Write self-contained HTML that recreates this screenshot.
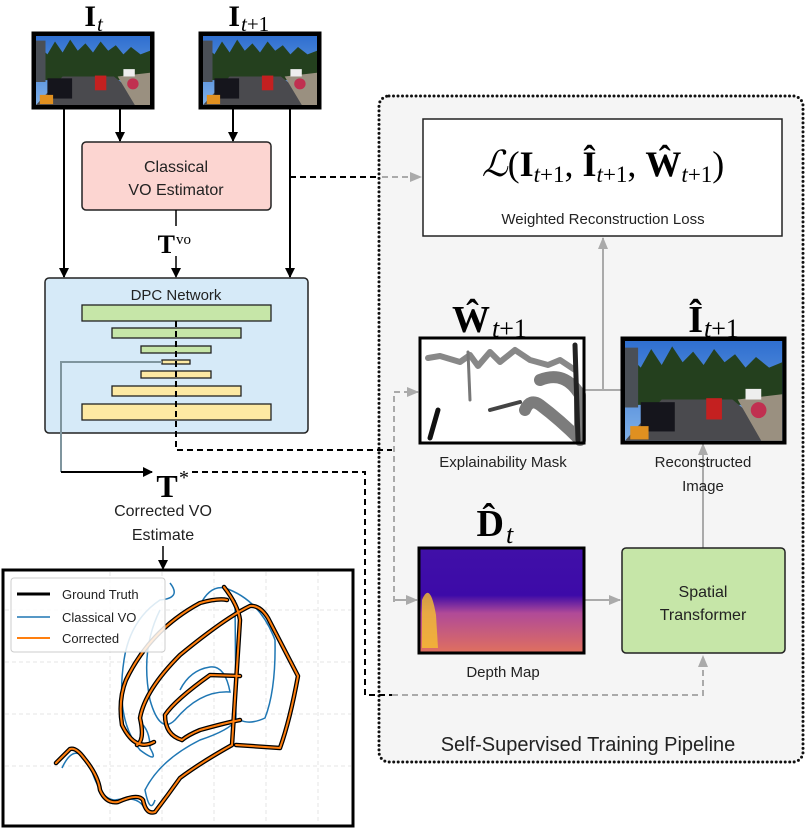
<!DOCTYPE html>
<html><head><meta charset="utf-8"><style>
html,body{margin:0;padding:0;background:#fff;}
svg{display:block;}
.s{font-family:"Liberation Sans",sans-serif;fill:#222;}
.m{font-family:"Liberation Serif",serif;fill:#000;}
</style></head><body>
<svg width="806" height="829" viewBox="0 0 806 829" xmlns="http://www.w3.org/2000/svg">
<defs>
<marker id="ab" markerWidth="10" markerHeight="10" refX="9" refY="5" orient="auto" markerUnits="userSpaceOnUse"><path d="M0,0 L10,5 L0,10 z" fill="#000"/></marker>
<marker id="ag" markerWidth="12" markerHeight="10" refX="11" refY="5" orient="auto" markerUnits="userSpaceOnUse"><path d="M0,0 L12,5 L0,10 z" fill="#aaa"/></marker>
<linearGradient id="sky" x1="0" y1="0" x2="0" y2="1"><stop offset="0" stop-color="#2f6fd0"/><stop offset="1" stop-color="#7fb0e8"/></linearGradient>
<linearGradient id="dep" x1="0" y1="0" x2="0" y2="1"><stop offset="0" stop-color="#4010a8"/><stop offset="0.45" stop-color="#3d0aa8"/><stop offset="0.62" stop-color="#b04a98"/><stop offset="1" stop-color="#e0705e"/></linearGradient>
<g id="street">
<rect x="0" y="0" width="120" height="75" fill="url(#sky)"/>
<path d="M0,22 L6,14 12,20 20,6 28,18 36,4 44,16 52,8 60,18 68,6 76,16 84,10 92,20 100,12 110,20 120,16 L120,48 L0,48z" fill="#24401e"/>
<rect x="0" y="5" width="10" height="45" fill="#4a4f56"/>
<path d="M0,75 L28,44 L82,44 L120,75z" fill="#4a4a4e"/>
<path d="M86,44 L120,40 L120,75 L104,75z" fill="#9a9080"/>
<rect x="12" y="46" width="26" height="22" fill="#15151c"/>
<rect x="62" y="43" width="12" height="16" fill="#c42020"/>
<rect x="92" y="36" width="12" height="8" fill="#eee"/>
<circle cx="102" cy="52" r="6" fill="#c03050"/>
<rect x="4" y="64" width="14" height="10" fill="#e09020"/>
</g>
</defs>

<!-- pipeline box -->
<rect x="379" y="96" width="424" height="666" rx="10" fill="#f5f5f5" stroke="#111" stroke-width="3" stroke-dasharray="0 4.5" stroke-linecap="round"/>

<!-- input images -->
<text x="96" y="26" class="m" font-size="30" font-weight="bold" text-anchor="end">I</text><text x="97" y="31" class="m" font-size="21" font-style="italic">t</text>
<text x="240" y="26" class="m" font-size="30" font-weight="bold" text-anchor="end">I</text><text x="241" y="31" class="m" font-size="21"><tspan font-style="italic">t</tspan>+1</text>
<rect x="33" y="33" width="120" height="75" fill="#000"/>
<use href="#street" transform="translate(36,36) scale(0.95,0.92)"/>
<rect x="33" y="33" width="120" height="75" fill="none" stroke="#000" stroke-width="3"/>
<rect x="200" y="33" width="120" height="75" fill="#000"/>
<use href="#street" transform="translate(203,36) scale(0.95,0.92)"/>
<rect x="200" y="33" width="120" height="75" fill="none" stroke="#000" stroke-width="3"/>

<line x1="120" y1="108" x2="120" y2="141" stroke="#000" stroke-width="2" marker-end="url(#ab)"/>
<line x1="233" y1="108" x2="233" y2="141" stroke="#000" stroke-width="2" marker-end="url(#ab)"/>
<line x1="64" y1="108" x2="64" y2="277" stroke="#000" stroke-width="2" marker-end="url(#ab)"/>
<line x1="290" y1="108" x2="290" y2="277" stroke="#000" stroke-width="2" marker-end="url(#ab)"/>

<rect x="82" y="142" width="189" height="68" rx="4" fill="#fcd5d1" stroke="#222" stroke-width="1.5"/>
<text x="176" y="172" class="s" font-size="16" text-anchor="middle">Classical</text>
<text x="176" y="195" class="s" font-size="16" text-anchor="middle">VO Estimator</text>

<line x1="176" y1="210" x2="176" y2="226" stroke="#000" stroke-width="1.5"/>
<text x="175" y="253" class="m" font-size="26" font-weight="bold" text-anchor="end">T</text><text x="176" y="244" class="m" font-size="15">vo</text>
<line x1="176" y1="256" x2="176" y2="277" stroke="#000" stroke-width="1.5" marker-end="url(#ab)"/>

<!-- DPC -->
<rect x="45" y="278" width="263" height="155" rx="4" fill="#d6eaf8" stroke="#222" stroke-width="1.5"/>
<text x="176" y="300" class="s" font-size="15" text-anchor="middle">DPC Network</text>
<g stroke="#222" stroke-width="1.3">
<rect x="82" y="305" width="189" height="16" fill="#c6e6a8"/>
<rect x="112" y="328" width="129" height="10" fill="#c6e6a8"/>
<rect x="141" y="346" width="70" height="7" fill="#c6e6a8"/>
<rect x="162" y="360" width="28" height="4" fill="#fde9a3"/>
<rect x="141" y="371" width="70" height="7" fill="#fde9a3"/>
<rect x="112" y="386" width="129" height="10" fill="#fde9a3"/>
<rect x="82" y="404" width="189" height="16" fill="#fde9a3"/>
</g>
<path d="M176,321 V450 H392" fill="none" stroke="#000" stroke-width="2" stroke-dasharray="6 4"/>
<path d="M162,362 H61 V472" fill="none" stroke="#7f959e" stroke-width="2"/>
<line x1="61" y1="472" x2="152" y2="472" stroke="#000" stroke-width="2" marker-end="url(#ab)"/>
<text x="167" y="497" class="m" font-size="32" font-weight="bold" text-anchor="middle">T</text><text x="179" y="484" class="m" font-size="20">*</text>
<path d="M192,472 H365 V695 H392" fill="none" stroke="#000" stroke-width="2" stroke-dasharray="6 4"/>
<text x="163" y="516" class="s" font-size="16" text-anchor="middle">Corrected VO</text>
<text x="163" y="540" class="s" font-size="16" text-anchor="middle">Estimate</text>
<line x1="163" y1="546" x2="163" y2="569" stroke="#000" stroke-width="1.5" marker-end="url(#ab)"/>

<path d="M290,177 H380" fill="none" stroke="#000" stroke-width="2" stroke-dasharray="6 4"/>
<line x1="382" y1="177" x2="421" y2="177" stroke="#aaa" stroke-width="2" stroke-dasharray="6 4" marker-end="url(#ag)"/>

<!-- plot -->
<rect x="3" y="570" width="350" height="256" fill="#fff" stroke="#000" stroke-width="3"/>
<g stroke="#e4e4e4" stroke-width="1" stroke-dasharray="4 3">
<line x1="110" y1="572" x2="110" y2="824"/><line x1="162" y1="572" x2="162" y2="824"/><line x1="214" y1="572" x2="214" y2="824"/><line x1="266" y1="572" x2="266" y2="824"/><line x1="318" y1="572" x2="318" y2="824"/>
<line x1="5" y1="610" x2="351" y2="610"/><line x1="5" y1="662" x2="351" y2="662"/><line x1="5" y1="714" x2="351" y2="714"/><line x1="5" y1="766" x2="351" y2="766"/>
</g>
<g fill="none" stroke="#1f77b4" stroke-width="1.5">
<path d="M170,583 Q182,598 160,600 Q130,620 124,660 Q115,720 140,750 Q160,765 150,748 Q150,730 140,722"/>
<path d="M200,605 Q210,585 225,588 Q260,600 275,640 Q276,690 265,718 Q250,725 240,720"/>
<path d="M160,610 Q140,650 150,700 Q160,735 175,720 Q200,690 230,692 Q225,665 210,667 Q190,670 180,690"/>
<path d="M155,800 Q150,815 145,790 Q160,760 200,740 Q230,730 236,720 L235,600"/>
<path d="M62,768 Q75,740 90,765 Q100,800 115,800 Q140,795 145,810"/>
</g>
<g fill="none" stroke-linecap="round" stroke-linejoin="round">
<g stroke="#000" stroke-width="4.5">
<path d="M56,763 L70,749 Q76,747 84,758 Q98,775 100,790 Q106,804 118,802 Q138,793 143,800 Q146,815 155,812 Q168,795 180,778 Q200,763 232,745 L240,620 Q238,605 224,587"/>
<path d="M154,742 Q135,752 122,725 Q118,700 126,680 Q150,630 200,603 Q218,598 227,600"/>
<path d="M137,745 Q145,740 140,718 Q145,690 180,655 Q225,618 250,606 Q260,605 268,618 L298,676 Q290,720 280,748 L236,745"/>
<path d="M182,740 Q165,735 165,715 Q175,700 210,675 L240,676"/>
<path d="M240,720 Q225,723 200,730 Q188,735 182,740"/>
</g>
<g stroke="#ff7f0e" stroke-width="2">
<path d="M56,763 L70,749 Q76,747 84,758 Q98,775 100,790 Q106,804 118,802 Q138,793 143,800 Q146,815 155,812 Q168,795 180,778 Q200,763 232,745 L240,620 Q238,605 224,587"/>
<path d="M154,742 Q135,752 122,725 Q118,700 126,680 Q150,630 200,603 Q218,598 227,600"/>
<path d="M137,745 Q145,740 140,718 Q145,690 180,655 Q225,618 250,606 Q260,605 268,618 L298,676 Q290,720 280,748 L236,745"/>
<path d="M182,740 Q165,735 165,715 Q175,700 210,675 L240,676"/>
<path d="M240,720 Q225,723 200,730 Q188,735 182,740"/>
</g>
</g>
<rect x="11" y="578" width="154" height="74" rx="3" fill="#fff" fill-opacity="0.85" stroke="#ccc"/>
<line x1="17" y1="594" x2="50" y2="594" stroke="#000" stroke-width="3"/>
<line x1="17" y1="617" x2="50" y2="617" stroke="#1f77b4" stroke-width="1.5"/>
<line x1="17" y1="638" x2="50" y2="638" stroke="#ff7f0e" stroke-width="2"/>
<text x="62" y="599" class="s" font-size="13">Ground Truth</text>
<text x="62" y="622" class="s" font-size="13">Classical VO</text>
<text x="62" y="643" class="s" font-size="13">Corrected</text>

<!-- loss box -->
<rect x="423" y="119" width="359" height="117" fill="#fff" stroke="#222" stroke-width="1.5"/>
<text x="603" y="176" class="m" font-size="36" text-anchor="middle"><tspan font-style="italic">ℒ</tspan>(<tspan font-weight="bold">I</tspan><tspan font-size="23" font-style="italic" dy="6">t</tspan><tspan font-size="23">+1</tspan><tspan dy="-6">, </tspan><tspan font-weight="bold">Î</tspan><tspan font-size="23" font-style="italic" dy="6">t</tspan><tspan font-size="23">+1</tspan><tspan dy="-6">, </tspan><tspan font-weight="bold">Ŵ</tspan><tspan font-size="23" font-style="italic" dy="6">t</tspan><tspan font-size="23">+1</tspan><tspan dy="-6">)</tspan></text>
<text x="603" y="224" class="s" font-size="15" text-anchor="middle">Weighted Reconstruction Loss</text>

<!-- gray connectors -->
<line x1="584" y1="390" x2="622" y2="390" stroke="#aaa" stroke-width="2"/>
<line x1="603" y1="390" x2="603" y2="238" stroke="#aaa" stroke-width="2" marker-end="url(#ag)"/>
<path d="M394,602 V392 H418" fill="none" stroke="#aaa" stroke-width="2" stroke-dasharray="6 4" marker-end="url(#ag)"/>
<line x1="394" y1="600" x2="417" y2="600" stroke="#aaa" stroke-width="2" marker-end="url(#ag)"/>
<line x1="584" y1="600" x2="620" y2="600" stroke="#aaa" stroke-width="2" marker-end="url(#ag)"/>
<line x1="703" y1="548" x2="703" y2="444" stroke="#aaa" stroke-width="2" marker-end="url(#ag)"/>
<path d="M392,695 H703 V656" fill="none" stroke="#aaa" stroke-width="2" stroke-dasharray="6 4" marker-end="url(#ag)"/>

<!-- W hat -->
<text x="490" y="332" class="m" font-size="38" font-weight="bold" text-anchor="end">Ŵ</text><text x="492" y="337" class="m" font-size="26"><tspan font-style="italic">t</tspan>+1</text>
<rect x="420" y="338" width="164" height="105" fill="#fff"/>
<g fill="none" stroke="#555" stroke-linecap="round" stroke-linejoin="round">
<path d="M428,358 L440,356 460,362 470,355 478,366 490,352 500,362 515,350 530,360 548,365 560,360 575,370" stroke-width="6" opacity="0.7"/>
<path d="M438,410 L430,438" stroke="#111" stroke-width="5"/>
<path d="M540,380 Q565,370 580,395 L580,440 Q560,420 540,405 Q530,398 525,410" stroke="#444" stroke-width="12" opacity="0.7"/>
<path d="M575,345 L578,440" stroke="#222" stroke-width="5"/>
<path d="M490,410 L520,402" stroke="#444" stroke-width="4"/>
<path d="M468,352 L470,400" stroke="#777" stroke-width="3"/>
</g>
<rect x="420" y="338" width="164" height="105" fill="none" stroke="#000" stroke-width="3"/>
<text x="503" y="467" class="s" font-size="15" text-anchor="middle">Explainability Mask</text>

<!-- I hat -->
<text x="703" y="332" class="m" font-size="38" font-weight="bold" text-anchor="end">Î</text><text x="704" y="337" class="m" font-size="26"><tspan font-style="italic">t</tspan>+1</text>
<rect x="622" y="338" width="163" height="105" fill="#000"/>
<use href="#street" transform="translate(625,341) scale(1.31,1.33)"/>
<rect x="622" y="338" width="163" height="105" fill="none" stroke="#000" stroke-width="3"/>
<text x="703" y="467" class="s" font-size="15" text-anchor="middle">Reconstructed</text>
<text x="703" y="491" class="s" font-size="15" text-anchor="middle">Image</text>

<!-- D hat -->
<text x="504" y="536" class="m" font-size="38" font-weight="bold" text-anchor="end">D̂</text><text x="506" y="543" class="m" font-size="26" font-style="italic">t</text>
<rect x="419" y="548" width="165" height="105" fill="url(#dep)"/>
<path d="M422,648 L422,600 Q430,580 436,615 L438,648z" fill="#f6c030" opacity="0.8"/>
<rect x="419" y="548" width="165" height="105" fill="none" stroke="#000" stroke-width="3"/>
<text x="503" y="677" class="s" font-size="15" text-anchor="middle">Depth Map</text>

<!-- spatial transformer -->
<rect x="622" y="548" width="163" height="105" rx="4" fill="#c6e6a8" stroke="#222" stroke-width="1.5"/>
<text x="703" y="597" class="s" font-size="16" text-anchor="middle">Spatial</text>
<text x="703" y="620" class="s" font-size="16" text-anchor="middle">Transformer</text>

<text x="588" y="751" class="s" font-size="20" text-anchor="middle">Self-Supervised Training Pipeline</text>
</svg>
</body></html>
